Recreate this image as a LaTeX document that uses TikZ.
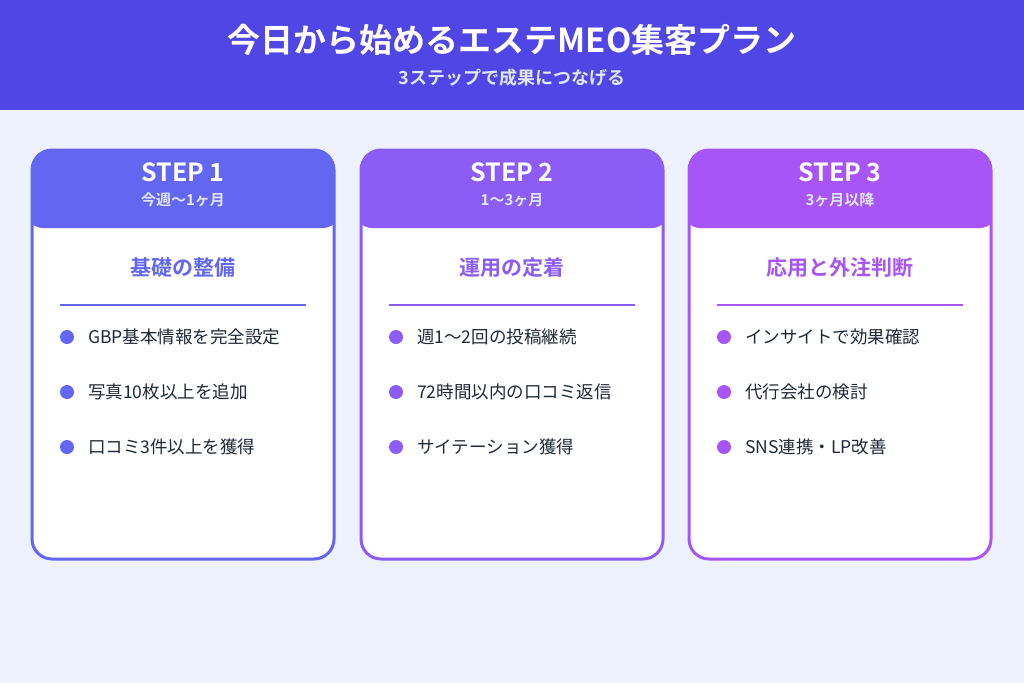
\documentclass[tikz,border=0pt]{standalone}
\usepackage{fontspec}
\setmainfont{Noto Sans CJK JP}[BoldFont={Noto Sans CJK JP Bold}]
\begin{document}
\begin{tikzpicture}[x=1pt,y=-1pt,
  bul/.style={font=\fontsize{17.5}{20}\selectfont, text=txt, anchor=west, inner sep=0},
  card/.style={rounded corners=20pt, line width=3pt}]
\definecolor{bg}{HTML}{EEF2FF}
\definecolor{hdr}{HTML}{4F46E5}
\definecolor{cA}{HTML}{6366F1}
\definecolor{cB}{HTML}{8B5CF6}
\definecolor{cC}{HTML}{A855F7}
\definecolor{txt}{HTML}{1F2937}
\definecolor{sub}{HTML}{E0E7FF}
\fill[bg] (0,0) rectangle (1024,683);
\useasboundingbox (0,0) rectangle (1024,683);
\fill[hdr] (0,0) rectangle (1024,110);
\node[font=\bfseries\fontsize{33}{38}\selectfont, text=white] (title) at (512,40) {今日から始めるエステMEO集客プラン};
\node[font=\bfseries\fontsize{18}{21}\selectfont, text=sub] (subtitle) at (512,78) {3ステップで成果につなげる};
\foreach \x/\c/\s/\d/\h/\a/\b/\e [count=\i] in {
  32/cA/STEP 1/今週〜1ヶ月/基礎の整備/GBP基本情報を完全設定/写真10枚以上を追加/口コミ3件以上を獲得,
  361/cB/STEP 2/1〜3ヶ月/運用の定着/週1〜2回の投稿継続/72時間以内の口コミ返信/サイテーション獲得,
  689/cC/STEP 3/3ヶ月以降/応用と外注判断/インサイトで効果確認/代行会社の検討/SNS連携・LP改善}{
  \fill[white, rounded corners=20pt] (\x,150) rectangle ++(302,409);
  \begin{scope}
    \clip[rounded corners=20pt] (\x,150) rectangle ++(302,409);
    \fill[\c, rounded corners=16pt] (\x-5,140) rectangle (\x+307,228);
    \fill[\c] (\x-5,140) rectangle (\x+307,210);
  \end{scope}
  \draw[card, draw=\c] (\x,150) rectangle ++(302,409);
  \node[font=\bfseries\fontsize{25}{29}\selectfont, text=white] (s\i) at (\x+151,172) {\s};
  \node[font=\bfseries\fontsize{15}{18}\selectfont, text=sub] (d\i) at (\x+151,200) {\d};
  \node[font=\bfseries\fontsize{21}{25}\selectfont, text=\c] (h\i) at (\x+151,268) {\h};
  \draw[\c, line width=1.5pt] (\x+28,305) -- (\x+274,305);
  \foreach \t/\y in {\a/337,\b/392,\e/447}{
    \fill[\c] (\x+35,\y) circle (7);
    \node[bul] at (\x+56,\y) {\t};
  }
}
\end{tikzpicture}
\end{document}
